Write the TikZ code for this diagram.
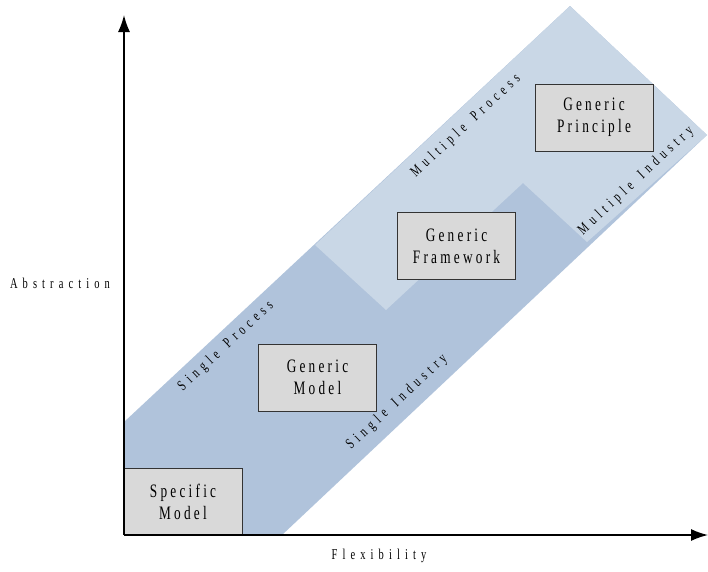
\documentclass[tikz,border=0pt]{standalone}
\usepackage{fontspec}
\usetikzlibrary{arrows.meta}
\newfontfamily\boxfont[FakeStretch=0.7,LetterSpace=17]{Liberation Serif}
\newfontfamily\axfont[FakeStretch=0.7,LetterSpace=34]{Liberation Serif}
\newfontfamily\bandfont[FakeStretch=0.7,LetterSpace=33]{Liberation Serif}
\definecolor{darkband}{HTML}{B0C3DB}
\definecolor{lightband}{HTML}{C9D7E6}
\definecolor{boxgray}{HTML}{D9D9D9}
\definecolor{boxline}{HTML}{333333}
\tikzset{
  modelbox/.style={draw=boxline, line width=1pt, fill=boxgray, rectangle,
    minimum width=118pt, minimum height=67pt, inner sep=0pt, align=center,
    font=\boxfont\fontsize{19}{22}\selectfont},
  axislabel/.style={inner sep=0pt, font=\axfont\fontsize{15}{17}\selectfont},
  bandlabel/.style={inner sep=0pt, rotate=43, font=\bandfont\fontsize{15}{17}\selectfont},
  axisline/.style={line width=1.5pt, -{Latex[length=17pt,width=12pt]}}
}
\newcommand{\wsp}{\hbox to 11pt{}}
\begin{document}
\begin{tikzpicture}[x=1pt,y=-1pt]
\useasboundingbox (0,0) rectangle (708,571);
% bands
\fill[darkband] (124,422) -- (570,6) -- (707,135) -- (282,535) -- (124,535) -- cycle;
\fill[lightband] (315,245) -- (570,6) -- (707,135) -- (587,242) -- (523,183) -- (386,310) -- cycle;
% boxes
\node[modelbox] (specific) at (183,501.5) {Specific\\Model};
\node[modelbox] (gmodel) at (317.5,377.5) {Generic\\Model};
\node[modelbox] (gframe) at (456.5,246) {Generic\\Framework};
\node[modelbox] (gprinc) at (594,117.5) {Generic\\Principle};
% band labels
\node[bandlabel] (sproc) at (226,346) {Single\wsp Process};
\node[bandlabel] (sind) at (397,402) {Single\wsp Industry};
\node[bandlabel] (mproc) at (466,126) {Multiple\wsp Process};
\node[bandlabel] (mind) at (636,181) {Multiple\wsp Industry};
% axes
\coordinate (origin) at (124,535);
\coordinate (ytip) at (124,15);
\coordinate (xtip) at (708,535);
\draw[axisline] (origin) -- (ytip);
\draw[axisline] (origin) -- (xtip);
\node[axislabel] (abs) at (60,283) {Abstraction};
\node[axislabel] (flex) at (379,556) {Flexibility};
\end{tikzpicture}
\end{document}
